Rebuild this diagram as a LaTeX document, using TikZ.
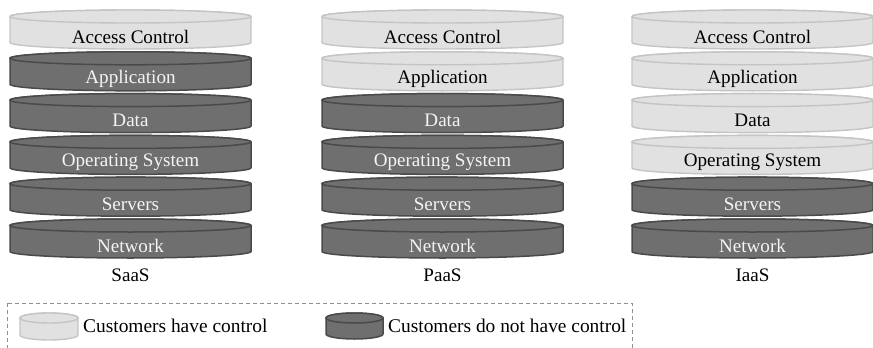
\documentclass[tikz,border=0pt]{standalone}
\usepackage{fontspec}
\setmainfont{Liberation Serif}
\definecolor{litefill}{HTML}{E1E1E1}
\definecolor{litedraw}{HTML}{C4C4C4}
\definecolor{darkfill}{HTML}{6F6F6F}
\definecolor{darkdraw}{HTML}{4A4A4A}
\definecolor{darktext}{HTML}{F4F4F4}
\definecolor{boxdash}{HTML}{8E8E8E}
\tikzset{
  lite/.style={fill=litefill, draw=litedraw, line width=1.4pt},
  dark/.style={fill=darkfill, draw=darkdraw, line width=1.5pt},
  litelabel/.style={text=black, font=\fontsize{19.1}{21}\selectfont, inner sep=0pt},
  darklabel/.style={text=darktext, font=\fontsize{19.1}{21}\selectfont, inner sep=0pt},
  caption/.style={text=black, font=\fontsize{19.1}{21}\selectfont, inner sep=0pt},
  legendtext/.style={text=black, font=\fontsize{19.4}{21}\selectfont, inner sep=0pt, anchor=west},
}
% \drum{style}{left x}{top y}{width}{height}{ry}
\newcommand{\drum}[6]{%
  \pgfmathsetmacro{\drx}{#4/2}%
  \pgfmathsetmacro{\dcx}{#2+\drx}%
  \pgfmathsetmacro{\dyt}{-(#3)-(#6)}%
  \pgfmathsetmacro{\dyb}{-(#3)-(#5)+(#6)}%
  \path[#1] (#2,\dyt) -- (#2,\dyb) arc[start angle=180, end angle=360, x radius=\drx, y radius=#6]
    -- ({#2+#4},\dyt) arc[start angle=0, end angle=180, x radius=\drx, y radius=#6] -- cycle;
  \path[#1] (\dcx,\dyt) ellipse[x radius=\drx, y radius=#6];
}
\begin{document}
\begin{tikzpicture}[x=1pt, y=1pt]
  \useasboundingbox (0,0) rectangle (873,-348);
  % three service-model stacks
  \foreach \col/\left/\nlite/\name in {s/10/1/SaaS, p/322/2/PaaS, i/632/4/IaaS}{
    \foreach \layer [count=\k from 0] in {Access Control, Application, Data, Operating System, Servers, Network}{
      \pgfmathsetmacro{\topy}{10+41.8*\k}
      \pgfmathtruncatemacro{\islite}{\k<\nlite ? 1 : 0}
      \ifnum\islite=1
        \drum{lite}{\left}{\topy}{241}{39}{6.5}
        \node[litelabel] (\col-\k) at ({\left+120.5}, {-\topy-27}) {\layer};
      \else
        \drum{dark}{\left}{\topy}{241}{39}{6.5}
        \node[darklabel] (\col-\k) at ({\left+120.5}, {-\topy-27}) {\layer};
      \fi
    }
    \node[caption] (\col-name) at ({\left+120.5}, -275) {\name};
  }
  % legend
  \draw[boxdash, line width=1pt, dash pattern=on 4pt off 3pt] (7,-303) rectangle (632,-356);
  \drum{lite}{20}{313}{58}{27}{5}
  \node[legendtext] (leg-lite) at (83,-326) {Customers have control};
  \drum{dark}{326}{313}{57}{26}{5}
  \node[legendtext] (leg-dark) at (388,-326) {Customers do not have control};
\end{tikzpicture}
\end{document}
